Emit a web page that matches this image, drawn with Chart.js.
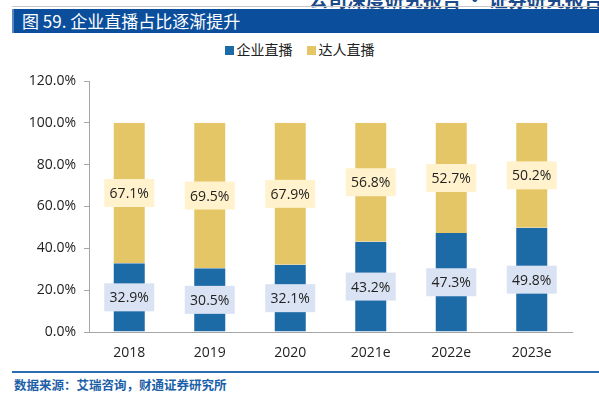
<!DOCTYPE html>
<html>
<head>
<meta charset="utf-8">
<script src="https://cdn.jsdelivr.net/npm/chart.js"></script>
<style>
    body { margin: 0; width: 599px; height: 394px; background: #fff; position: relative; overflow: hidden; font-family: "Noto Sans CJK SC", "Noto Sans", sans-serif; }
    .top { position: absolute; left: 309px; top: -15px; font-size: 19px; font-weight: bold; color: #1b4a8a; white-space: nowrap; }
    .rule { position: absolute; left: 12px; right: 0; top: 6px; height: 1px; background: #c8c8c8; }
    .title { position: absolute; left: 12px; right: 0; top: 9px; height: 24px; background: #0b4f9c; border-left: 2px solid #5b86c4; color: #fff; font-size: 17px; line-height: 24px; padding-left: 8px; }
    .legend { position: absolute; top: 39px; left: 0; width: 599px; text-align: center; font-size: 14px; color: #222; }
    .legend span { margin: 0 7px; }
    .legend i { display: inline-block; width: 9px; height: 9px; margin-right: 3px; vertical-align: 0px; }
    .foot { position: absolute; left: 12px; right: 0; top: 371px; height: 2px; background: #2a6db2; }
    .source { position: absolute; left: 14px; top: 375px; font-size: 12.5px; font-weight: bold; color: #1b5fa8; }
    #wrap { position: absolute; left: 0; top: 60px; width: 599px; height: 311px; }
</style>
</head>
<body>
<div class="top">公司深度研究报告 · 证券研究报告</div>
<div class="rule"></div>
<div class="title">图 59. 企业直播占比逐渐提升</div>
<div class="legend" id="legend"></div>
<div id="wrap"><canvas id="chart"></canvas></div>
<div class="foot"></div>
<div class="source">数据来源：艾瑞咨询，财通证券研究所</div>
<script>
    const years = ['2018', '2019', '2020', '2021e', '2022e', '2023e'];
    const enterprise = [32.9, 30.5, 32.1, 43.2, 47.3, 49.8];
    const influencer = [67.1, 69.5, 67.9, 56.8, 52.7, 50.2];
    const yTicks = [0, 20, 40, 60, 80, 100, 120];

    const seriesNames = ['企业直播', '达人直播'];
    const barColors = ['#1c6aa6', '#e5c666'];
    const labelBg = ['#dae3f3', '#fff2cc'];

    document.getElementById('legend').innerHTML = seriesNames
        .map((n, i) => `<span><i style="background:${barColors[i]}"></i>${n}</span>`)
        .join('');

    // 数値ラベル（背景付き）
    const boxLabels = {
        id: 'boxLabels',
        afterDatasetsDraw(chart) {
            const ctx = chart.ctx;
            ctx.save();
            ctx.font = '14px "Open Sans", "DejaVu Sans", sans-serif';
            ctx.textAlign = 'center';
            ctx.textBaseline = 'middle';
            chart.data.datasets.forEach((ds, di) => {
                chart.getDatasetMeta(di).data.forEach((bar, i) => {
                    const yMid = (bar.y + bar.base) / 2;
                    const w = 50, h = 28;
                    ctx.fillStyle = labelBg[di];
                    ctx.fillRect(bar.x - w / 2, yMid - h / 2, w, h);
                    ctx.fillStyle = '#222';
                    ctx.fillText(ds.data[i].toFixed(1) + '%', bar.x, yMid + 1);
                });
            });
            ctx.restore();
        }
    };

    new Chart(document.getElementById('chart'), {
        type: 'bar',
        data: {
            labels: years,
            datasets: seriesNames.map((n, i) => ({
                label: n,
                data: i === 0 ? enterprise : influencer,
                backgroundColor: barColors[i],
                borderColor: 'rgba(255,255,255,0.6)',
                borderWidth: { left: 1, right: 1, top: 0, bottom: 0 },
                barPercentage: 0.41,
                categoryPercentage: 1
            }))
        },
        options: {
            responsive: true,
            maintainAspectRatio: false,
            animation: false,
            layout: { padding: { top: 21, right: 27, left: 0, bottom: 0 } },
            plugins: { legend: { display: false }, tooltip: { enabled: false } },
            scales: {
                x: {
                    stacked: true,
                    grid: { display: false, drawTicks: false },
                    border: { color: '#a6a6a6' },
                    ticks: { color: '#222', padding: 13, font: { size: 14, family: '"Open Sans", sans-serif' } },
                    afterFit: s => { s.height = 39; }
                },
                y: {
                    stacked: true,
                    min: 0,
                    max: 120,
                    afterBuildTicks: s => { s.ticks = yTicks.map(v => ({ value: v })); },
                    grid: { drawOnChartArea: false, tickLength: 5, color: '#a6a6a6' },
                    border: { color: '#a6a6a6' },
                    ticks: {
                        color: '#222',
                        padding: 8,
                        font: { size: 14, family: '"Open Sans", sans-serif' },
                        callback: v => v.toFixed(1) + '%'
                    },
                    afterFit: s => { s.width = 89; }
                }
            }
        },
        plugins: [boxLabels]
    });
</script>
</body>
</html>
